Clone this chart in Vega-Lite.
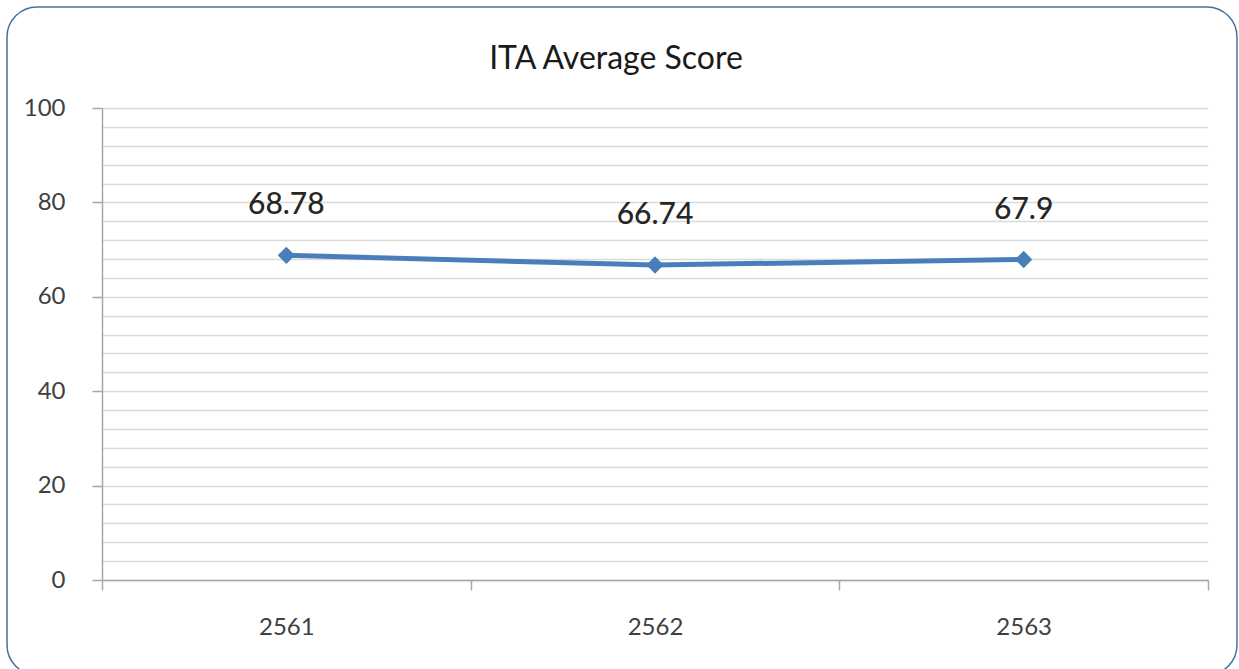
{
  "$schema": "https://vega.github.io/schema/vega-lite/v6.json",
  "autosize": {"type": "none"},
  "width": 1230,
  "height": 668,
  "padding": {"left": 7, "top": 7, "right": 2, "bottom": 0},
  "background": "white",
  "config": {
    "view": {"stroke": "#41719c", "strokeWidth": 1.5, "cornerRadius": 30},
    "font": "Lato"
  },
  "title": {
    "text": "ITA Average Score",
    "anchor": "middle",
    "orient": "top",
    "offset": -69,
    "dx": -6,
    "fontSize": 32,
    "fontWeight": "normal",
    "font": "Lato",
    "color": "#1a1a1a"
  },
  "data": {
    "values": [
      {"year": "2561", "score": 68.78},
      {"year": "2562", "score": 66.74},
      {"year": "2563", "score": 67.9}
    ]
  },
  "encoding": {
    "x": {
      "field": "year",
      "type": "ordinal",
      "scale": {"type": "band", "range": [95, 1201], "paddingInner": 0, "paddingOuter": 0},
      "axis": {
        "title": null,
        "orient": "bottom",
        "offset": -95,
        "tickBand": "extent",
        "tickSize": 10,
        "tickColor": "#a6a6a6",
        "tickWidth": 1.5,
        "domainColor": "#a6a6a6",
        "domainWidth": 1.5,
        "labelAngle": 0,
        "labelFontSize": 24,
        "labelColor": "#404040",
        "labelPadding": 25,
        "grid": false
      }
    },
    "y": {
      "field": "score",
      "type": "quantitative",
      "scale": {"domain": [0, 100], "range": [573, 101], "nice": false, "zero": true},
      "axis": {
        "title": null,
        "orient": "left",
        "offset": -95,
        "values": [0, 4, 8, 12, 16, 20, 24, 28, 32, 36, 40, 44, 48, 52, 56, 60, 64, 68, 72, 76, 80, 84, 88, 92, 96, 100],
        "labelExpr": "datum.value % 20 === 0 ? datum.label : ''",
        "tickOpacity": {"condition": {"test": "datum.value % 20 === 0", "value": 1}, "value": 0},
        "tickSize": 10,
        "tickColor": "#a6a6a6",
        "tickWidth": 1.5,
        "domainColor": "#a6a6a6",
        "domainWidth": 1.5,
        "grid": true,
        "gridColor": "#d9d9d9",
        "gridWidth": 1.5,
        "labelFontSize": 24,
        "labelColor": "#404040",
        "labelPadding": 27
      }
    }
  },
  "layer": [
    {
      "mark": {"type": "line", "color": "#4a7ebb", "strokeWidth": 5}
    },
    {
      "mark": {"type": "point", "shape": "diamond", "filled": true, "size": 300, "color": "#4a7ebb", "opacity": 1}
    },
    {
      "mark": {"type": "text", "dy": -50, "fontSize": 30, "fontWeight": 500, "color": "#262626", "font": "Lato", "baseline": "middle"},
      "encoding": {"text": {"field": "score", "type": "quantitative", "format": ".4~f"}}
    }
  ]
}
